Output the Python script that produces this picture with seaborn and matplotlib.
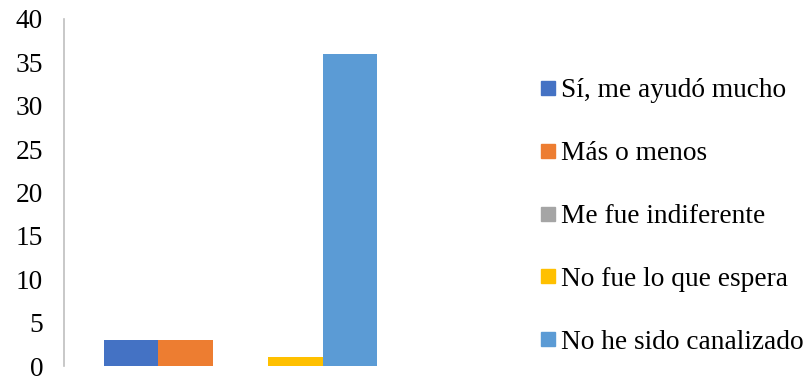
import matplotlib
matplotlib.use("Agg")
import matplotlib.pyplot as plt
from matplotlib.lines import Line2D
import seaborn as sns
import pandas as pd

categories = ["Sí, me ayudó mucho", "Más o menos", "Me fue indiferente",
              "No fue lo que espera", "No he sido canalizado"]
values = [3, 3, 0, 1, 36]
colors = ["#4472C4", "#ED7D31", "#A5A5A5", "#FFC000", "#5B9BD5"]
yticks = [0, 5, 10, 15, 20, 25, 30, 35, 40]

df = pd.DataFrame({"grupo": [""] * len(categories), "respuesta": categories, "n": values})

sns.set_style("white")
plt.rcParams["font.family"] = ["Liberation Serif", "DejaVu Serif"]
plt.rcParams["text.color"] = "black"
plt.rcParams["ytick.color"] = "black"

fs = 19.7

fig = plt.figure(figsize=(8.1, 3.79), dpi=100)
ax = fig.add_axes([64 / 810, 1 - 366 / 379, (417 - 64) / 810, (366 - 19) / 379])

sns.barplot(data=df, x="grupo", y="n", hue="respuesta", hue_order=categories,
            palette=colors, width=0.775, saturation=1, linewidth=0,
            legend=False, ax=ax)

ax.set_xlim(-0.5, 0.5)
ax.set_ylim(0, 40)
ax.set_yticks(yticks)
ax.set_yticklabels([str(t) for t in yticks], fontsize=fs, color="black")
ax.set_xticks([])
ax.set_xlabel("")
ax.set_ylabel("")
ax.tick_params(axis="y", length=0, pad=15)
for s in ["top", "right", "bottom"]:
    ax.spines[s].set_visible(False)
ax.spines["left"].set_color("#BFBFBF")
ax.spines["left"].set_linewidth(1.2)
ax.spines["left"].set_bounds(0, 40)

handles = [Line2D([0], [0], marker="s", linestyle="", markersize=9.5,
                  markerfacecolor=c, markeredgecolor=c) for c in colors]
leg = fig.legend(handles, categories, loc="center left",
                 bbox_to_anchor=(536 / 810, 1 - 216.5 / 379),
                 frameon=False, fontsize=fs, handletextpad=0.02, handlelength=0.9,
                 labelspacing=1.38, borderpad=0, borderaxespad=0)
for t in leg.get_texts():
    t.set_color("black")

fig.savefig("out.png", dpi=100)
